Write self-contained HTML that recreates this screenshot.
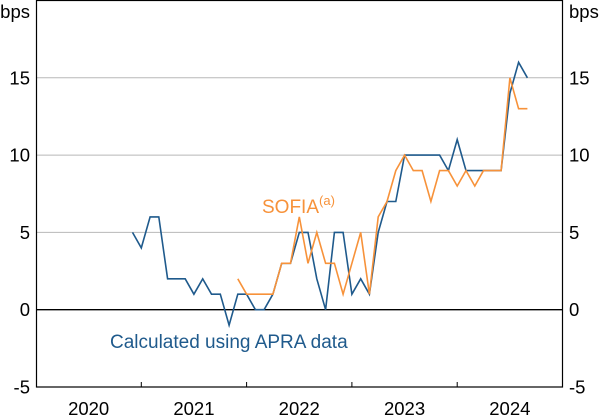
<!DOCTYPE html>
<html><head><meta charset="utf-8"><style>
body{margin:0;background:#fff;}
svg{display:block;font-family:"Liberation Sans",Arial,sans-serif;}
</style></head><body>
<svg id="chart" width="600" height="416" viewBox="0 0 600 416" xmlns="http://www.w3.org/2000/svg">
<g id="grid"></g>
<g id="series"></g>
<rect x="36.5" y="0.5" width="526" height="386.5" fill="none" stroke="#000" stroke-width="1.2"/>
<g id="axes"></g>
<text x="30" y="18" font-size="18.5" text-anchor="end">bps</text>
<text x="569" y="18" font-size="18.5">bps</text>
<text x="262" y="213" font-size="19" fill="#f7923a">SOFIA<tspan dy="-8" font-size="13">(a)</tspan></text>
<text x="110" y="348" font-size="19" fill="#1f5a8c">Calculated using APRA data</text>
</svg>
<script>
const yTicks = [-5, 0, 5, 10, 15];
const yearLabels = ["2020", "2021", "2022", "2023", "2024"];
const startMonth = 11; // months after Jan 2020 of first observation
const apra = [5,4,6,6,2,2,2,1,2,1,1,-1,1,1,0,0,1,3,3,5,5,2,0,5,5,1,2,1,5,7,7,10,10,10,10,10,9,11,9,9,9,9,9,14,16,15];
const sofiaStart = 12;
const sofia = [2,1,1,1,1,3,3,6,3,5,3,3,1,3,5,1,6,7,9,10,9,9,7,9,9,8,9,8,9,9,9,15,13,13];

const NS = "http://www.w3.org/2000/svg";
const X0 = 36, X1 = 562.5, Y0 = 0.5, Y1 = 387;
function xs(m){ return X0 + m * (X1 - X0) / 60; }
function ys(v){ return Y1 - (v + 5) * (Y1 - Y0) / 25; }
function mk(tag, attrs, parent){ const e = document.createElementNS(NS, tag); for (const k in attrs) e.setAttribute(k, attrs[k]); parent.appendChild(e); return e; }

const grid = document.getElementById('grid');
const axes = document.getElementById('axes');
yTicks.forEach(v => {
  if (v !== -5) {
    const l = mk('line', {x1: X0, x2: X1, y1: ys(v), y2: ys(v), stroke: v === 0 ? '#000' : '#b8b8b8', 'stroke-width': v === 0 ? 1.3 : 1}, grid);
    
    
  }
  const t1 = mk('text', {x: 30, y: ys(v) + 6.5, 'font-size': 18.5, 'text-anchor': 'end'}, axes);
  t1.textContent = v;
  
  
  const t2 = mk('text', {x: 569, y: ys(v) + 6.5, 'font-size': 18.5}, axes);
  t2.textContent = v;
  
  
});
yearLabels.forEach((y, i) => {
  const t = mk('text', {x: xs(i * 12 + 6), y: 415, 'font-size': 18.5, 'text-anchor': 'middle'}, axes);
  t.textContent = y;
  
  
  if (i > 0) {
    const tk = mk('line', {x1: xs(i * 12), x2: xs(i * 12), y1: Y1 - 5, y2: Y1, stroke: '#000', 'stroke-width': 1}, axes);
    
    
  }
});
const sg = document.getElementById('series');
function line(vals, off, color, name){
  const pts = vals.map((v, i) => xs(startMonth + off + i).toFixed(1) + ',' + ys(v).toFixed(1)).join(' ');
  const p = mk('polyline', {points: pts, fill: 'none', stroke: color, 'stroke-width': 1.6, 'stroke-linejoin': 'miter'}, sg);
  
  
}
line(apra, 0, '#1f5a8c', 'apra-line');
line(sofia, sofiaStart, '#f7923a', 'sofia-line');
</script>
</body></html>
